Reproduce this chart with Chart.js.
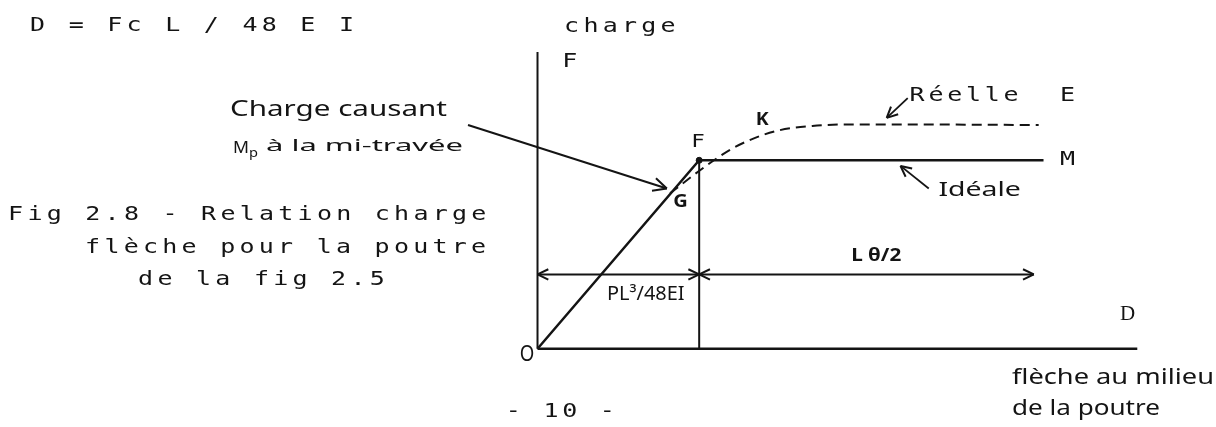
<!DOCTYPE html>
<html>
<head>
<meta charset="utf-8">
<script src="https://cdn.jsdelivr.net/npm/chart.js@4.4.1/dist/chart.umd.min.js"></script>
<style>
  body { margin: 0; background: #fff; }
  #wrap { width: 1216px; height: 427px; }
</style>
</head>
<body>
<div id="wrap"><canvas id="c" width="1216" height="427"></canvas></div>
<script>
// units: x = deflection D in multiples of PL^3/48EI, y = load in multiples of Fp
const idealX = [0, 1, 3.13];
const idealY = [0, 1, 1];
const realX = [0.82, 1.05, 1.2, 1.35, 1.5, 1.7, 1.9, 2.31, 3.1];
const realY = [0.825, 0.975, 1.06, 1.12, 1.16, 1.182, 1.19, 1.19, 1.187];
const axisMaxX = 3.71;
const axisMaxY = 1.575;
const dimLevel = 0.394;
const dimEndX = 3.07;
// pointer arrows (from, to)
const causeArrow = [[-0.43, 1.187], [0.8, 0.85]];
const reelleArrow = [[2.29, 1.33], [2.16, 1.225]];
const idealeArrow = [[2.42, 0.85], [2.245, 0.97]];

const toPts = (xs, ys) => xs.map((x, i) => ({ x: x, y: ys[i] }));
const pair = p => p.map(q => ({ x: q[0], y: q[1] }));
const ink = '#141414';

function line(data, extra) {
  return Object.assign({ data: data, showLine: true, borderColor: ink, borderWidth: 2, pointRadius: 0, fill: false }, extra || {});
}

const arrowPlugin = {
  id: 'arrows',
  afterDatasetsDraw(chart) {
    const c = chart.ctx;
    const head = (from, to, len) => {
      const a = Math.atan2(to.y - from.y, to.x - from.x);
      c.beginPath();
      [-0.45, 0.45].forEach(d => {
        c.moveTo(to.x, to.y);
        c.lineTo(to.x - len * Math.cos(a + d), to.y - len * Math.sin(a + d));
      });
      c.stroke();
    };
    c.save();
    c.strokeStyle = ink;
    c.lineWidth = 2;
    chart.data.datasets.forEach((ds, i) => {
      const pts = chart.getDatasetMeta(i).data;
      const n = pts.length;
      if (ds.arrowEnd) head(pts[n - 2], pts[n - 1], ds.headLen || 12);
      if (ds.arrowStart) head(pts[1], pts[0], ds.headLen || 12);
    });
    c.restore();
  }
};

const textPlugin = {
  id: 'texts',
  afterDraw(chart) {
    const c = chart.ctx;
    const sx = chart.scales.x, sy = chart.scales.y;
    const X = v => sx.getPixelForValue(v);
    const Y = v => sy.getPixelForValue(v);
    c.save();
    c.fillStyle = ink;
    c.textBaseline = 'middle';
    c.textAlign = 'center';
    const mono = '20px "DejaVu Sans Mono"';
    const hand = (s) => s + 'px "Noto Sans"';
    // dot-matrix style: fixed advance, glyphs widened
    const typed = (t, x, y, adv, font) => {
      c.font = font || mono;
      for (let i = 0; i < t.length; i++) {
        c.save();
        c.translate(x + i * adv + adv / 2, y);
        c.scale(1.25, 1);
        c.fillText(t[i], 0, 0);
        c.restore();
      }
    };
    // handwritten text stretched to fit a width
    const fit = (t, x0, x1, y, font) => {
      c.font = font;
      c.textAlign = 'left';
      const w = c.measureText(t).width;
      c.save();
      c.translate(x0, y);
      c.scale((x1 - x0) / w, 1);
      c.fillText(t, 0, 0);
      c.restore();
      c.textAlign = 'center';
    };

    typed('D = Fc L / 48 E I', 28, 26, 19.3);
    typed('charge', 562, 27, 19.3);
    typed('F', X(0.14), Y(1.525), 19.3);
    typed('Fig 2.8 - Relation charge', 6, 215, 19.3);
    typed('flèche pour la poutre', 83, 248, 19.3);
    typed('de la fig 2.5', 136, 280, 19.3);
    typed('Réelle', X(2.29), Y(1.34), 18.8);
    typed('E', X(3.22), Y(1.34), 19);
    typed('M', X(3.22), Y(1.0), 19);
    typed('F', X(0.94), Y(1.095), 17, '18px "DejaVu Sans Mono"');
    typed('- 10 -', 504, 412, 18.8);

    c.font = '21px "Liberation Serif"';
    c.fillText('D', X(3.65), Y(0.18));

    fit('Charge causant', 230, 447, 110, hand(21));
    fit('M', 233, 249, 148, hand(16));
    fit('p', 249, 258, 153, hand(13));
    fit('à la mi-travée', 266, 463, 146, hand(16));
    fit('Idéale', X(2.48), X(2.99), Y(0.84), hand(20));
    fit('L θ/2', X(1.94), X(2.25), Y(0.495), 'bold ' + hand(18));
    fit('PL³/48EI', X(0.43), X(0.91), Y(0.285), hand(19));
    fit('K', X(1.35), X(1.43), Y(1.215), 'bold ' + hand(17));
    fit('G', X(0.84), X(0.93), Y(0.78), 'bold ' + hand(17));
    fit('O', X(-0.11), X(-0.02), Y(-0.03), hand(22));
    fit('flèche au milieu', 1012, 1214, 378, hand(22));
    fit('de la poutre', 1012, 1160, 409, hand(22));
    c.restore();
  }
};

new Chart(document.getElementById('c'), {
  type: 'scatter',
  data: {
    datasets: [
      line([{ x: 0, y: 0 }, { x: 0, y: axisMaxY }]),
      line([{ x: 0, y: 0 }, { x: axisMaxX, y: 0 }], { borderWidth: 2.5 }),
      line(toPts(idealX, idealY), { borderWidth: 2.5 }),
      line(toPts(realX, realY), { borderDash: [10, 6], cubicInterpolationMode: 'monotone' }),
      line([{ x: idealX[1], y: 0 }, { x: idealX[1], y: idealY[1] }]),
      line([{ x: 0, y: dimLevel }, { x: idealX[1], y: dimLevel }], { arrowStart: true, arrowEnd: true }),
      line([{ x: idealX[1], y: dimLevel }, { x: dimEndX, y: dimLevel }], { arrowStart: true, arrowEnd: true }),
      line(pair(causeArrow), { arrowEnd: true, headLen: 15 }),
      line(pair(reelleArrow), { arrowEnd: true, borderWidth: 1.8 }),
      line(pair(idealeArrow), { arrowEnd: true, borderWidth: 1.8 }),
      { data: [{ x: idealX[1], y: idealY[1] }], pointRadius: 3, backgroundColor: ink, borderColor: ink }
    ]
  },
  options: {
    responsive: false,
    animation: false,
    layout: { padding: 0 },
    plugins: { legend: { display: false }, tooltip: { enabled: false } },
    scales: {
      x: { type: 'linear', display: false, min: -3.294, max: 4.166 },
      y: { type: 'linear', display: false, min: -0.389, max: 1.824 }
    }
  },
  plugins: [arrowPlugin, textPlugin]
});
</script>
</body>
</html>
